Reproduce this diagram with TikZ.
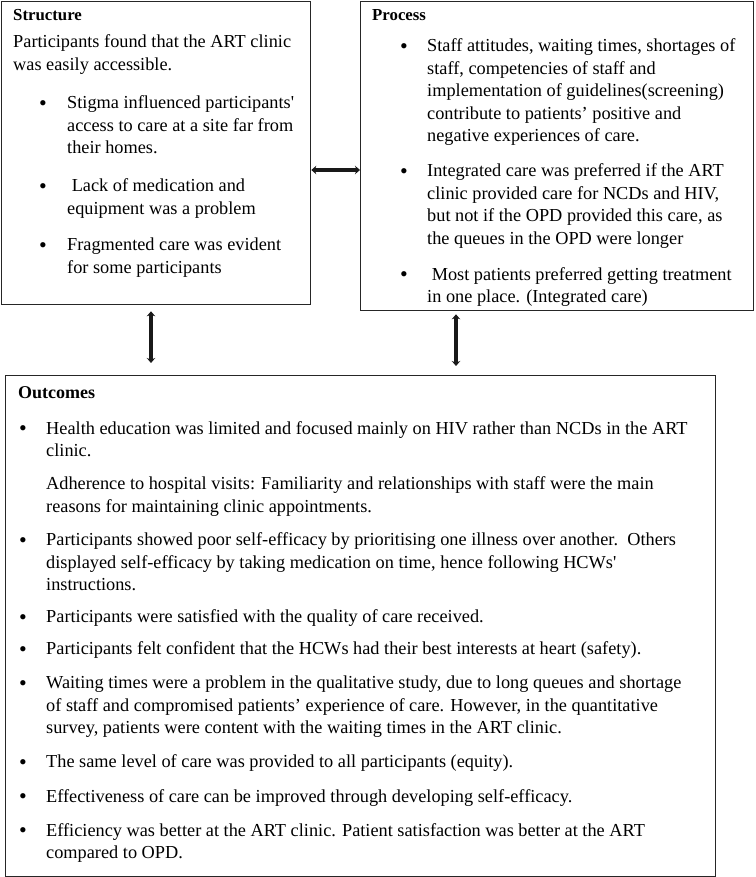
\documentclass[tikz,border=0pt]{standalone}
\usepackage{fontspec}
\setmainfont{Liberation Serif}
\usetikzlibrary{arrows.meta,calc}
\newcommand{\mlines}[1]{\begin{tabular}[t]{@{}l@{}}#1\end{tabular}}
\begin{document}
\begin{tikzpicture}[x=1pt,y=1pt,
  box/.style={draw=black!85,line width=1.3pt,anchor=north west,inner sep=0pt},
  txt/.style={anchor=base west,inner sep=0pt,font=\fontsize{18.3}{22.5}\selectfont},
  ttl/.style={anchor=base west,inner sep=0pt,font=\fontsize{16.8}{20}\selectfont\bfseries},
  bul/.style={anchor=base west,inner sep=0pt,yshift=-1.8pt,font=\fontsize{22}{22.5}\selectfont},
  arr/.style={line width=3.2pt,black!90,{Stealth[length=5pt,width=8.5pt]}-{Stealth[length=5pt,width=8.5pt]}}]
\useasboundingbox (0,0) rectangle (755,-877);
% boxes
\node[box,minimum width=309pt,minimum height=303pt] (S) at (1,-1) {};
\node[box,minimum width=393pt,minimum height=309pt] (P) at (360,-1) {};
\node[box,minimum width=710pt,minimum height=501pt] (O) at (5,-375) {};
% Structure
\node[ttl] (st) at (13,-21) {Structure};
\node[txt] (s0) at (13,-48) {\mlines{Participants found that the ART clinic\\was easily accessible.}};
\node[bul] (sb1) at (39,-109) {•};
\node[txt] (s1) at (67,-109) {\mlines{Stigma influenced participants\textquotesingle\\access to care at a site far from\\their homes.}};
\node[bul] (sb2) at (39,-192) {•};
\node[txt] (s2) at (67,-192) {\mlines{\ Lack of medication and\\equipment was a problem}};
\node[bul] (sb3) at (39,-251) {•};
\node[txt] (s3) at (67,-251) {\mlines{Fragmented care was evident\\for some participants}};
% Process
\node[ttl] (pt) at (372,-21) {Process};
\node[bul] (pb1) at (400,-52) {•};
\node[txt] (p1) at (427,-52) {\mlines{Staff attitudes, waiting times, shortages of\\staff, competencies of staff and\\implementation of guidelines(screening)\\contribute to patients’ positive and\\negative experiences of care.}};
\node[bul] (pb2) at (400,-177) {•};
\node[txt] (p2) at (427,-177) {\mlines{Integrated care was preferred if the ART\\clinic provided care for NCDs and HIV,\\but not if the OPD provided this care, as\\the queues in the OPD were longer}};
\node[bul] (pb3) at (400,-280) {•};
\node[txt] (p3) at (427,-280) {\mlines{\ Most patients preferred getting treatment\\in one place. (Integrated care)}};
% Outcomes
\node[ttl,font=\fontsize{18}{22}\selectfont\bfseries] (ot) at (18,-398) {Outcomes};
\node[bul] (ob1) at (19,-434) {•};
\node[txt] (o1) at (46,-434) {\mlines{Health education was limited and focused mainly on HIV rather than NCDs in the ART\\clinic.}};
\node[txt] (o1b) at (46,-489.8) {\mlines{Adherence to hospital visits: Familiarity and relationships with staff were the main\\reasons for maintaining clinic appointments.}};
\node[bul] (ob2) at (19,-545.6) {•};
\node[txt] (o2) at (46,-545.6) {\mlines{Participants showed poor self-efficacy by prioritising one illness over another.\ \ Others\\displayed self-efficacy by taking medication on time, hence following HCWs\textquotesingle\\instructions.}};
\node[bul] (ob3) at (19,-622.5) {•};
\node[txt] (o3) at (46,-622.5) {Participants were satisfied with the quality of care received.};
\node[bul] (ob4) at (19,-654.5) {•};
\node[txt] (o4) at (46,-654.5) {Participants felt confident that the HCWs had their best interests at heart (safety).};
\node[bul] (ob5) at (19,-688.5) {•};
\node[txt] (o5) at (46,-688.5) {\mlines{Waiting times were a problem in the qualitative study, due to long queues and shortage\\of staff and compromised patients’ experience of care. However, in the quantitative\\survey, patients were content with the waiting times in the ART clinic.}};
\node[bul] (ob6) at (19,-767.5) {•};
\node[txt] (o6) at (46,-767.5) {The same level of care was provided to all participants (equity).};
\node[bul] (ob7) at (19,-802) {•};
\node[txt] (o7) at (46,-802) {Effectiveness of care can be improved through developing self-efficacy.};
\node[bul] (ob8) at (19,-836) {•};
\node[txt] (o8) at (46,-836) {\mlines{Efficiency was better at the ART clinic. Patient satisfaction was better at the ART\\compared to OPD.}};
% connectors
\coordinate (h) at (0,-170);
\coordinate (vl) at (151,0);
\coordinate (vr) at (456,0);
\draw[arr] (S.east |- h) -- (P.west |- h);
\draw[arr] ([yshift=-6pt]S.south -| vl) -- ([yshift=12pt]O.north -| vl);
\draw[arr] ([yshift=-3pt]P.south -| vr) -- ([yshift=9pt]O.north -| vr);
\end{tikzpicture}
\end{document}
